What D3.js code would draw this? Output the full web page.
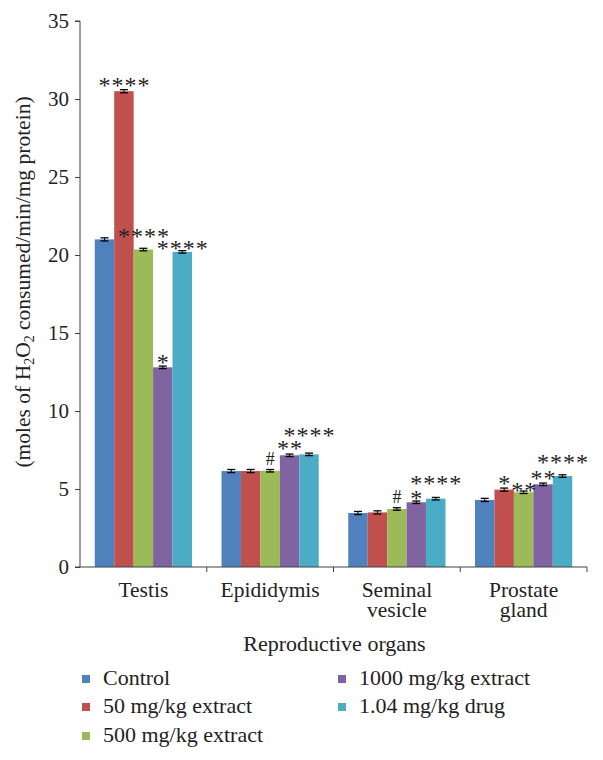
<!DOCTYPE html>
<html><head><meta charset="utf-8">
<script src="https://cdn.jsdelivr.net/npm/d3@7"></script>
<style>body{margin:0;background:#fff}</style>
</head><body>
<svg id="c" width="603" height="760"></svg>
<script>
const categories = ["Testis", "Epididymis", "Seminal vesicle", "Prostate gland"];
const categoryLines = [["Testis"], ["Epididymis"], ["Seminal", "vesicle"], ["Prostate", "gland"]];
const seriesNames = ["Control", "50 mg/kg extract", "500 mg/kg extract", "1000 mg/kg extract", "1.04 mg/kg drug"];
const control   = [21.0, 6.15, 3.46, 4.30];
const ext50     = [30.5, 6.15, 3.50, 4.96];
const ext500    = [20.35, 6.17, 3.72, 4.79];
const ext1000   = [12.8, 7.16, 4.15, 5.30];
const drug      = [20.2, 7.22, 4.38, 5.83];
const errors    = [0.10, 0.10, 0.08, 0.08, 0.08];
const annTestis   = ["", "****", "****", "*", "****"];
const annEpid     = ["", "", "#", "**", "****"];
const annSeminal  = ["", "", "#", "*", "****"];
const annProstate = ["", "*", "**", "**", "****"];
const yTicks = [0, 5, 10, 15, 20, 25, 30, 35];

// layout (pixel offsets of annotation centres above bar tops)
const annOffset = [[0, 11, 18, 10, 8], [0, 0, 12, 12, 24], [0, 0, 12, 9, 20], [0, 11, 7, 11, 19]];
const colors = ["#4F81BD", "#C0504D", "#9BBB59", "#8064A2", "#4BACC6"];
const FONT = "Liberation Serif, DejaVu Serif, serif";
const axisColor = "#404040";

const seriesValues = [control, ext50, ext500, ext1000, drug];
const annotations = [annTestis, annEpid, annSeminal, annProstate];

const svg = d3.select("#c");
const pL = 80, pR = 587, pT = 21, pB = 567;

const x = d3.scaleBand().domain(categories).range([pL, pR]).paddingInner(0.233).paddingOuter(0.1165);
const xs = d3.scaleBand().domain(d3.range(5)).range([0, x.bandwidth()]).padding(0);
const y = d3.scaleLinear().domain([0, 35]).range([pB, pT]);

// bars
const data = [];
categories.forEach((c, ci) => seriesValues.forEach((s, si) => data.push({c, ci, si, v: s[ci]})));

svg.append("g").selectAll("rect").data(data).join("rect")
  .attr("x", d => x(d.c) + xs(d.si))
  .attr("width", xs.bandwidth())
  .attr("y", d => y(d.v))
  .attr("height", d => y(0) - y(d.v))
  .attr("fill", d => colors[d.si]);

// error bars
const eg = svg.append("g").attr("stroke", "#000");
data.forEach(d => {
  const cx = x(d.c) + xs(d.si) + xs.bandwidth() / 2;
  const e = errors[d.si];
  eg.append("line").attr("x1", cx).attr("x2", cx).attr("y1", y(d.v + e)).attr("y2", y(d.v - e)).attr("stroke-width", 1);
  [d.v + e, d.v - e].forEach(v => eg.append("line").attr("x1", cx - 4).attr("x2", cx + 4).attr("y1", y(v)).attr("y2", y(v)).attr("stroke-width", 1.3));
});

// annotations
data.forEach(d => {
  const lab = annotations[d.ci][d.si];
  if (!lab) return;
  const cx = x(d.c) + xs(d.si) + xs.bandwidth() / 2;
  const cy = y(d.v) - annOffset[d.ci][d.si];
  const isHash = lab === "#";
  const fs = isHash ? 18 : 24;
  svg.append("text")
    .attr("x", cx + (isHash ? 0 : 0.5))
    .attr("y", cy + (isHash ? 6 : 12.5))
    .attr("text-anchor", "middle")
    .attr("font-family", FONT)
    .attr("font-size", fs)
    .attr("letter-spacing", isHash ? 0 : 1)
    .attr("fill", "#222")
    .text(lab);
});

// y axis
const yAxis = d3.axisLeft(y).tickValues(yTicks).tickSize(5).tickPadding(6);
const ya = svg.append("g").attr("transform", `translate(${pL},0)`).call(yAxis);
ya.select(".domain").attr("stroke", axisColor).attr("d", `M-5,${pT}H0V${pB}`);
ya.selectAll(".tick line").attr("stroke", axisColor);
ya.selectAll(".tick text").attr("font-family", FONT).attr("font-size", 21).attr("fill", "#222");

// x axis
const xa = svg.append("g");
xa.append("line").attr("x1", pL - 5).attr("x2", pR).attr("y1", pB).attr("y2", pB).attr("stroke", axisColor);
const step = x.step();
d3.range(1, 5).forEach(i => {
  const tx = pL + i * step;
  xa.append("line").attr("x1", tx).attr("x2", tx).attr("y1", pB).attr("y2", pB + 5).attr("stroke", axisColor);
});
categories.forEach((c, ci) => {
  const t = xa.append("text").attr("x", x(c) + x.bandwidth() / 2).attr("y", pB + 30)
    .attr("text-anchor", "middle").attr("font-family", FONT).attr("font-size", 21.5).attr("fill", "#222");
  categoryLines[ci].forEach((l, li) => t.append("tspan").attr("x", x(c) + x.bandwidth() / 2).attr("dy", li === 0 ? 0 : 20).text(l));
});

// axis titles
svg.append("text").attr("x", (pL + pR) / 2 + 1).attr("y", 651).attr("text-anchor", "middle")
  .attr("font-family", FONT).attr("font-size", 22).attr("fill", "#222").text("Reproductive organs");

const yt = svg.append("text").attr("transform", `translate(30,282) rotate(-90)`)
  .attr("text-anchor", "middle").attr("font-family", FONT).attr("font-size", 21.5).attr("fill", "#222");
yt.append("tspan").text("(moles of H");
yt.append("tspan").attr("font-size", 14).attr("dy", 4).text("2");
yt.append("tspan").attr("dy", -4).text("O");
yt.append("tspan").attr("font-size", 14).attr("dy", 4).text("2");
yt.append("tspan").attr("dy", -4).text(" consumed/min/mg protein)");

// legend
const legPos = [[86, 685], [86, 713], [86, 742], [342, 685], [342, 713]];
seriesNames.forEach((n, i) => {
  const [lx, ly] = legPos[i];
  svg.append("rect").attr("x", lx - 4).attr("y", ly - 10).attr("width", 8).attr("height", 8).attr("fill", colors[i]);
  svg.append("text").attr("x", lx + 17).attr("y", ly).attr("font-family", FONT).attr("font-size", 22).attr("fill", "#222").text(n);
});
</script>
</body></html>
